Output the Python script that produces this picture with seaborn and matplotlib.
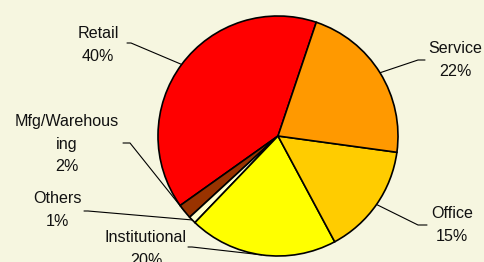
import numpy as np
import seaborn as sns
import matplotlib.pyplot as plt

# data (counter-clockwise from the top)
sectors = ['Retail', 'Mfg/Warehous\ning', 'Others', 'Institutional', 'Office', 'Service']
shares = [40, 2, 1, 20, 15, 22]
colors = ['#FF0000', '#993300', '#FFFFCC', '#FFFF00', '#FFCC00', '#FF9900']

# label block centres and leader start points (pixels from top-left)
label_pos = [(98, 45), (67, 144), (57, 210), (146, 249), (452, 225), (455, 60)]
leader_start = [(127, 43), (123, 143), (84, 211), (188, 247), (427, 225), (425, 60)]
elbow_dx = [4, 7, 4, 4, -9, -7]

W, H = 484, 262
bg = '#F6F6E0'

sns.set_style('white')
plt.rcParams['font.family'] = ['Liberation Sans', 'DejaVu Sans']

fig = plt.figure(figsize=(W / 100, H / 100), dpi=100)
fig.patch.set_facecolor(bg)
ax = fig.add_axes([0, 0, 1, 1])
ax.set_facecolor(bg)

cx, cy, r = 278, H - 136, 120
wedges, _ = ax.pie(shares, colors=colors, startangle=71.4, counterclock=True,
                   center=(cx, cy), radius=r,
                   wedgeprops=dict(edgecolor='black', linewidth=1.2))

for i, w in enumerate(wedges):
    mid = np.deg2rad((w.theta1 + w.theta2) / 2)
    ex, ey = cx + r * np.cos(mid), cy + r * np.sin(mid)
    sx, sy = leader_start[i]
    sy = H - sy
    kx = sx + elbow_dx[i]
    ax.plot([sx, kx, ex], [sy, sy, ey], color='black', lw=0.8, zorder=0.5)
    lx, ly = label_pos[i]
    ax.text(lx, H - ly, f'{sectors[i]}\n{shares[i]}%', ha='center', va='center',
            fontsize=11.6, linespacing=1.6, color='#111111')

ax.set_xlim(0, W)
ax.set_ylim(0, H)
ax.set_aspect('equal')
ax.axis('off')

fig.savefig('out.png', dpi=100, facecolor=bg)
